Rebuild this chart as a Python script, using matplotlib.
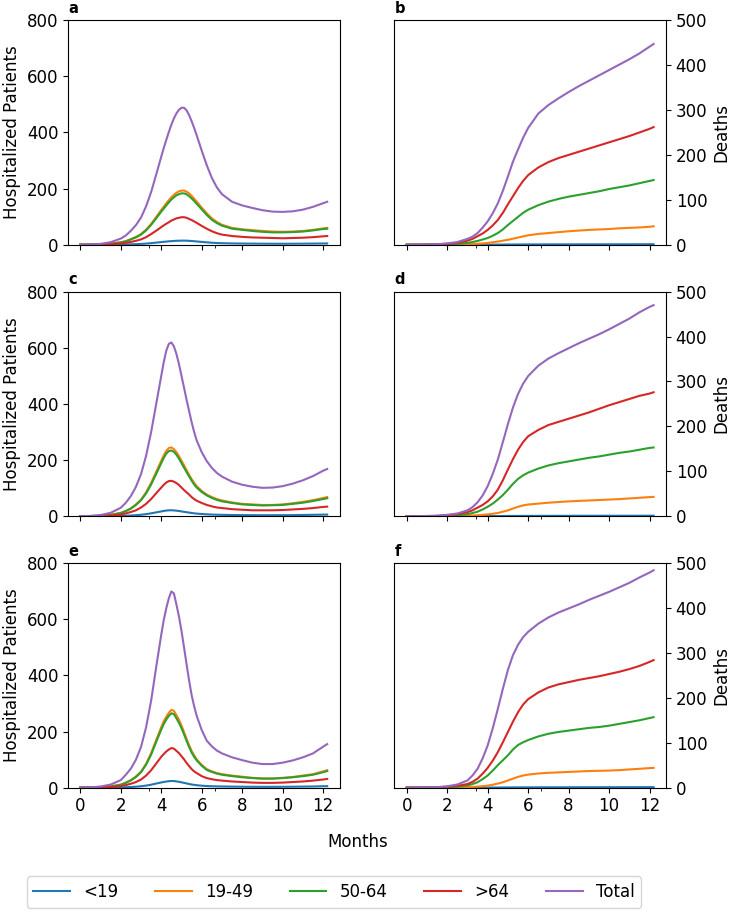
import matplotlib
matplotlib.use('Agg')
import matplotlib.pyplot as plt

# months since start (hospital curves are read more densely around the peak)
months_hosp = [0, 0.5, 1, 1.5, 2, 2.25, 2.5, 2.75, 3, 3.25, 3.5, 3.75, 4, 4.125, 4.25,
               4.375, 4.5, 4.625, 4.75, 4.875, 5, 5.125, 5.25, 5.375, 5.5, 5.625, 5.75,
               6, 6.25, 6.5, 6.75, 7, 7.5, 8, 8.5, 9, 9.5, 10, 10.5, 11, 11.5, 12, 12.2]
months_death = [0, 0.5, 1, 1.5, 2, 2.5, 3, 3.25, 3.5, 3.75, 4, 4.25, 4.5, 4.75, 5, 5.25,
                5.5, 5.75, 6, 6.5, 7, 7.5, 8, 8.5, 9, 9.5, 10, 10.5, 11, 11.5, 12, 12.2]

groups = ['<19', '19-49', '50-64', '>64', 'Total']

# ---- scenario 1 (a, b)
hosp_a_u19 = [0, 0, 0.1, 0.3, 0.7, 1, 1.5, 2.1, 2.9, 4.1, 5.6, 7.5, 9.4, 10.4, 11.2,
              12.1, 12.8, 13.5, 14, 14.4, 14.6, 14.6, 14.4, 13.9, 13.2, 12.5, 11.7,
              10, 8.5, 7.1, 6.1, 5.4, 4.6, 4.2, 3.9, 3.7, 3.5, 3.5, 3.6, 3.8, 4.1, 4.4, 4.6]
hosp_a_19_49 = [0, 0.4, 1.2, 3.6, 8.7, 13, 20, 28, 38, 54, 74, 99, 124, 136, 148,
                159, 169, 178, 185, 190, 193, 193, 189, 183, 174, 164, 154,
                132, 112, 94, 81, 71, 60, 55, 52, 49, 47, 46, 47, 49, 53, 58, 60]
hosp_a_50_64 = [0, 0.4, 1.1, 3.4, 8.3, 12, 19, 26, 36, 51, 71, 94, 118, 129, 140,
                151, 161, 169, 176, 180, 183, 183, 180, 173, 165, 156, 146,
                126, 106, 89, 77, 68, 57, 53, 49, 46, 44, 44, 45, 47, 51, 56, 57]
hosp_a_64 = [0, 0.2, 0.6, 1.8, 4.4, 6.6, 10, 14, 19, 27, 38, 50, 63, 69, 75,
             80, 86, 90, 94, 96, 98, 98, 96, 92, 88, 83, 78,
             67, 57, 48, 41, 36, 31, 28, 26, 25, 24, 23, 24, 25, 27, 30, 31]
hosp_a_total = [0, 1, 3, 9, 22, 33, 50, 70, 97, 137, 188, 250, 314, 345, 374,
                402, 428, 450, 468, 481, 488, 488, 479, 462, 440, 416, 390,
                335, 283, 238, 204, 180, 153, 140, 131, 123, 118, 117, 119, 125, 135, 148, 153]

death_u19 = [0, 0, 0, 0, 0, 0, 0.1, 0.1, 0.1, 0.2, 0.2, 0.3, 0.3, 0.4, 0.5, 0.5,
             0.6, 0.6, 0.7, 0.7, 0.8, 0.8, 0.8, 0.9, 0.9, 0.9, 1, 1, 1, 1, 1.1, 1.1]
death_b_19_49 = [0, 0, 0, 0.1, 0.2, 0.5, 1, 1.5, 2.2, 3, 4, 5.5, 7, 9, 11, 13.5,
                 16, 18.5, 21, 24, 26, 28, 30, 31.5, 33, 34, 35, 36.5, 37.5, 38.5, 40, 41]
death_b_50_64 = [0, 0, 0.1, 0.4, 1, 2, 4, 6, 8.5, 11.5, 15, 20, 26, 34, 44, 53,
                 62, 71, 78, 88, 96, 102, 107, 111, 115, 119, 124, 128, 132, 137, 142, 144]
death_b_64 = [0, 0, 0.3, 0.7, 2, 4, 9, 13, 19, 25, 33, 43, 55, 71, 90, 108,
              126, 142, 155, 172, 184, 193, 200, 207, 214, 221, 228, 235, 242, 250, 258, 262]
death_b_total = [0, 0, 0.5, 1, 3, 6, 13, 18, 26, 38, 52, 70, 92, 120, 152, 185,
                 212, 238, 260, 292, 311, 326, 340, 353, 365, 377, 389, 401, 413, 426, 441, 447]

# ---- scenario 2 (c, d)
hosp_c_u19 = [0, 0, 0.1, 0.4, 1, 1.6, 2.4, 3.6, 5.1, 7.3, 10.2, 13.6, 17, 18.7, 20.1,
              20.9, 21, 20.6, 19.7, 18.4, 17, 15.6, 14.1, 12.8, 11.4, 10.2, 9.2,
              7.8, 6.7, 5.8, 5.2, 4.8, 4.2, 3.8, 3.6, 3.4, 3.5, 3.6, 3.9, 4.4, 4.9, 5.5, 5.7]
hosp_c_19_49 = [0, 0.4, 1.6, 4.7, 12, 19, 28, 42, 59, 85, 119, 158, 198, 217, 233,
                243, 245, 239, 228, 214, 198, 181, 164, 148, 132, 119, 107,
                90, 77, 68, 61, 56, 49, 44, 42, 40, 40, 42, 46, 51, 57, 65, 68]
hosp_c_50_64 = [0, 0.4, 1.5, 4.5, 11, 18, 27, 40, 57, 81, 113, 151, 189, 208, 223,
                232, 234, 229, 219, 205, 189, 173, 157, 142, 127, 113, 102,
                86, 74, 65, 58, 53, 47, 42, 40, 38, 39, 40, 44, 48, 54, 61, 64]
hosp_c_64 = [0, 0.2, 0.8, 2.4, 6.1, 9.8, 15, 21, 31, 44, 61, 82, 102, 112, 120,
             125, 126, 123, 118, 111, 102, 93, 85, 77, 68, 61, 55,
             47, 40, 35, 31, 29, 25, 23, 21, 21, 21, 22, 24, 26, 29, 33, 34]
hosp_c_total = [0, 1, 4, 12, 30, 48, 72, 105, 150, 215, 300, 400, 500, 550, 590,
                614, 619, 605, 578, 542, 500, 458, 415, 375, 335, 300, 270,
                228, 196, 172, 154, 141, 123, 112, 105, 101, 102, 107, 116, 128, 143, 162, 168]

death_d_19_49 = [0, 0, 0, 0.1, 0.2, 0.5, 1, 1.5, 2.2, 3, 4, 5.5, 7, 10, 13, 17,
                 21, 24, 26, 28, 30, 31.5, 33, 34, 35, 36, 37, 38, 39.5, 41, 42.5, 43]
death_d_50_64 = [0, 0, 0.1, 0.4, 1, 2, 4.5, 7, 10, 15, 21, 28, 37, 47, 59, 72,
                 83, 91, 97, 106, 113, 118, 122, 126, 130, 133, 137, 141, 144, 148, 152, 153]
death_d_64 = [0, 0, 0.3, 0.7, 2, 4, 9, 13, 19, 25, 33, 44, 59, 80, 104, 127,
              148, 165, 178, 192, 203, 210, 217, 224, 231, 239, 247, 254, 261, 268, 273, 276]
death_d_total = [0, 0, 0.5, 1, 3, 6, 13, 20, 31, 46, 67, 94, 126, 165, 205, 242,
                 272, 295, 312, 335, 351, 363, 374, 385, 395, 405, 416, 428, 440, 454, 466, 470]

# ---- scenario 3 (e, f)
hosp_e_u19 = [0, 0, 0.1, 0.4, 0.9, 1.6, 2.3, 3.4, 4.9, 7.3, 10.5, 14.6, 18.5, 20.3, 21.8,
              23, 23.8, 23.5, 22.2, 20.7, 19, 17, 15, 13, 11.2, 9.9, 8.7,
              7, 5.7, 5, 4.5, 4.1, 3.7, 3.3, 3, 2.9, 2.9, 3, 3.3, 3.7, 4.1, 5, 5.3]
hosp_e_19_49 = [0, 0.4, 1.6, 4.4, 11, 18, 27, 40, 57, 85, 123, 170, 216, 237, 253,
                267, 277, 274, 258, 242, 221, 198, 174, 151, 131, 115, 101,
                81, 66, 58, 52, 48, 43, 39, 35, 33, 33, 35, 38, 43, 48, 58, 62]
hosp_e_50_64 = [0, 0.4, 1.5, 4.2, 10, 17, 26, 38, 55, 82, 118, 163, 207, 227, 243,
                256, 265, 262, 247, 231, 212, 190, 167, 145, 125, 110, 97,
                78, 63, 56, 50, 46, 41, 37, 34, 32, 32, 34, 37, 41, 46, 55, 59]
hosp_e_64 = [0, 0.2, 0.8, 2.2, 5.4, 9.2, 14, 20, 29, 43, 62, 86, 110, 120, 129,
             136, 141, 139, 131, 123, 112, 101, 88, 77, 66, 58, 52,
             41, 34, 30, 27, 25, 22, 20, 18, 17, 17, 18, 20, 22, 25, 29, 31]
hosp_e_total = [0, 1, 4, 11, 27, 46, 68, 100, 145, 215, 310, 430, 545, 598, 640,
                675, 699, 692, 652, 610, 558, 500, 440, 382, 330, 290, 256,
                205, 167, 147, 132, 122, 108, 98, 89, 84, 84, 89, 97, 108, 122, 146, 155]

death_f_19_49 = [0, 0, 0, 0.1, 0.2, 0.5, 1, 1.6, 2.3, 3.2, 4.5, 6.5, 9, 12, 16, 20,
                 24, 27, 29, 31.5, 33, 34, 35, 36, 37, 37.5, 38, 39, 40.5, 42, 43.5, 44]
death_f_50_64 = [0, 0, 0.1, 0.4, 1, 2, 5, 8, 12, 19, 27, 38, 50, 61, 72, 85,
                 95, 101, 106, 114, 120, 124, 127, 130, 133, 135, 138, 142, 146, 150, 155, 157]
death_f_64 = [0, 0, 0.3, 0.7, 2, 4, 8, 13, 20, 31, 44, 60, 79, 101, 124, 147,
              168, 185, 197, 212, 223, 230, 235, 240, 244, 248, 253, 258, 264, 271, 280, 284]
death_f_total = [0, 0, 0.5, 1, 3, 7, 16, 27, 42, 65, 94, 132, 175, 220, 262, 295,
                 318, 335, 347, 365, 379, 390, 399, 408, 418, 427, 436, 446, 456, 468, 479, 484]

rows = [
    ('a', [hosp_a_u19, hosp_a_19_49, hosp_a_50_64, hosp_a_64, hosp_a_total],
     'b', [death_u19, death_b_19_49, death_b_50_64, death_b_64, death_b_total]),
    ('c', [hosp_c_u19, hosp_c_19_49, hosp_c_50_64, hosp_c_64, hosp_c_total],
     'd', [death_u19, death_d_19_49, death_d_50_64, death_d_64, death_d_total]),
    ('e', [hosp_e_u19, hosp_e_19_49, hosp_e_50_64, hosp_e_64, hosp_e_total],
     'f', [death_u19, death_f_19_49, death_f_50_64, death_f_64, death_f_total]),
]

colors = ['tab:blue', 'tab:orange', 'tab:green', 'tab:red', 'tab:purple']

plt.rcParams['font.size'] = 12
fig, axes = plt.subplots(3, 2, figsize=(7.31, 9.18), dpi=100, sharex=True)
fig.subplots_adjust(left=0.093, right=0.911, top=0.978, bottom=0.142,
                    wspace=0.202, hspace=0.209)

for i, (lab_h, hosp, lab_d, deaths) in enumerate(rows):
    ax_h, ax_d = axes[i, 0], axes[i, 1]
    for series, c, g in zip(hosp, colors, groups):
        ax_h.plot(months_hosp, series, color=c, lw=1.5, label=g)
    for series, c in zip(deaths, colors):
        ax_d.plot(months_death, series, color=c, lw=1.5)

    ax_h.set_ylim(0, 800)
    ax_h.set_yticks([0, 200, 400, 600, 800])
    ax_h.set_ylabel('Hospitalized Patients')

    ax_d.set_ylim(0, 500)
    ax_d.yaxis.tick_right()
    ax_d.yaxis.set_label_position('right')
    ax_d.set_ylabel('Deaths')

    for ax, lab in ((ax_h, lab_h), (ax_d, lab_d)):
        ax.set_xticks([0, 2, 4, 6, 8, 10, 12])
        ax.set_xticks([3.4, 6.65], minor=True)
        ax.tick_params(axis='x', which='minor', length=2)
        ax.text(0.0, 1.02, lab, transform=ax.transAxes, fontsize=10.5,
                fontweight='bold', va='bottom', ha='left')

fig.text(0.49, 0.083, 'Months', ha='center', va='center', fontsize=12)

handles, labels = axes[0, 0].get_legend_handles_labels()
fig.legend(handles, labels, loc='lower center', bbox_to_anchor=(0.457, 0.002),
           ncol=5, fontsize=12, columnspacing=2.2, handlelength=2.2)

fig.savefig('out.png', dpi=100)
